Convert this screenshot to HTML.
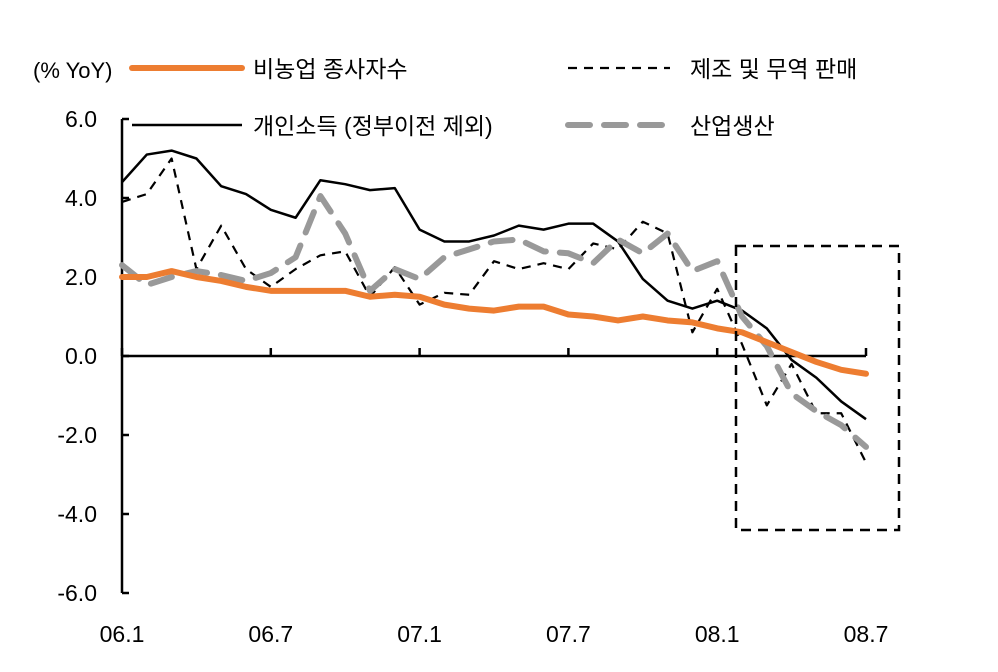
<!DOCTYPE html>
<html><head><meta charset="utf-8"><style>
body{margin:0;background:#fff;}
svg{display:block;font-family:"Liberation Sans","Noto Sans CJK KR",sans-serif;}
</style></head><body>
<svg id="c" width="998" height="672" viewBox="0 0 998 672">
<g id="legend">
 <text x="33" y="78" font-size="22" fill="#000">(% YoY)</text>
 <g><line x1="132" y1="68" x2="242" y2="68" stroke="#ED7D31" stroke-width="6" stroke-linecap="round"/><text x="253" y="77" font-size="23">비농업 종사자수</text></g>
 <g><line x1="568" y1="68" x2="670" y2="68" stroke="#000" stroke-width="2.2" stroke-dasharray="9,7"/><text x="690" y="77" font-size="23">제조 및 무역 판매</text></g>
 <g><line x1="132" y1="125" x2="242" y2="125" stroke="#000" stroke-width="2.5"/><text x="253" y="134" font-size="23">개인소득 (정부이전 제외)</text></g>
 <g><line x1="568" y1="125" x2="670" y2="125" stroke="#999" stroke-width="6" stroke-dasharray="22,14" stroke-linecap="round"/><text x="690" y="134" font-size="23">산업생산</text></g>
</g>
<g id="axes"></g>
<g id="series"></g>
<rect x="736" y="246" width="163" height="284" fill="none" stroke="#000" stroke-width="2.5" stroke-dasharray="10,7"/>
</svg>
<script>
const xLabels=["06.1","06.7","07.1","07.7","08.1","08.7"];
const yTicks=[6,4,2,0,-2,-4,-6];
const nonfarm=[2.0,2.0,2.15,2.0,1.9,1.75,1.65,1.65,1.65,1.65,1.5,1.55,1.5,1.3,1.2,1.15,1.25,1.25,1.05,1.0,0.9,1.0,0.9,0.85,0.7,0.6,0.35,0.1,-0.15,-0.35,-0.45];
const manufacturing=[3.9,4.1,5.0,2.2,3.3,2.2,1.75,2.2,2.55,2.65,1.5,2.25,1.3,1.6,1.55,2.4,2.2,2.35,2.2,2.85,2.7,3.4,3.1,0.6,1.7,0.3,-1.25,-0.2,-1.45,-1.45,-2.7];
const income=[4.4,5.1,5.2,5.0,4.3,4.1,3.7,3.5,4.45,4.35,4.2,4.25,3.2,2.9,2.9,3.05,3.3,3.2,3.35,3.35,2.9,1.95,1.4,1.2,1.4,1.15,0.7,-0.1,-0.55,-1.15,-1.6];
const production=[2.3,1.8,2.0,2.15,2.05,1.9,2.1,2.5,4.05,3.1,1.65,2.2,1.95,2.5,2.7,2.9,2.95,2.65,2.6,2.35,2.95,2.6,3.1,2.15,2.4,1.0,0.25,-0.95,-1.4,-1.75,-2.3];
const NS="http://www.w3.org/2000/svg";
const X=i=>122+i*(744/30);
const Y=v=>356-v*39.5;
const ax=document.getElementById('axes');
function mk(p,t,a){const e=document.createElementNS(NS,t);for(const k in a)e.setAttribute(k,a[k]);p.appendChild(e);return e;}
let l=mk(ax,'line',{x1:122,y1:Y(6),x2:122,y2:Y(-6),stroke:'#000','stroke-width':2.5});


l=mk(ax,'line',{x1:122,y1:Y(0),x2:866,y2:Y(0),stroke:'#000','stroke-width':2.5});


yTicks.forEach(v=>{
 const t=mk(ax,'line',{x1:122,y1:Y(v),x2:129,y2:Y(v),stroke:'#000','stroke-width':2.5});
 
 
 const tx=mk(ax,'text',{x:97,y:Y(v)+8,'text-anchor':'end','font-size':23});
 tx.textContent=v.toFixed(1);
 
 
});
xLabels.forEach((s,i)=>{
 const x=X(i*6);
 const t=mk(ax,'line',{x1:x,y1:Y(0),x2:x,y2:Y(0)-8,stroke:'#000','stroke-width':2.5});
 
 
 const tx=mk(ax,'text',{x:x,y:642,'text-anchor':'middle','font-size':23});
 tx.textContent=s;
 
 
});
const sg=document.getElementById('series');
function line(arr,style,name){
 const p=mk(sg,'polyline',Object.assign({points:arr.map((v,i)=>X(i)+','+Y(v)).join(' '),fill:'none','stroke-linejoin':'round'},style));
 
 
}
line(income,{stroke:'#000','stroke-width':2.5},'income-line');
line(manufacturing,{stroke:'#000','stroke-width':2.2,'stroke-dasharray':'9,7'},'manufacturing-line');
line(production,{stroke:'#999','stroke-width':6,'stroke-dasharray':'22,14','stroke-linecap':'round'},'production-line');
line(nonfarm,{stroke:'#ED7D31','stroke-width':6,'stroke-linecap':'round'},'nonfarm-line');
</script>
</body></html>
